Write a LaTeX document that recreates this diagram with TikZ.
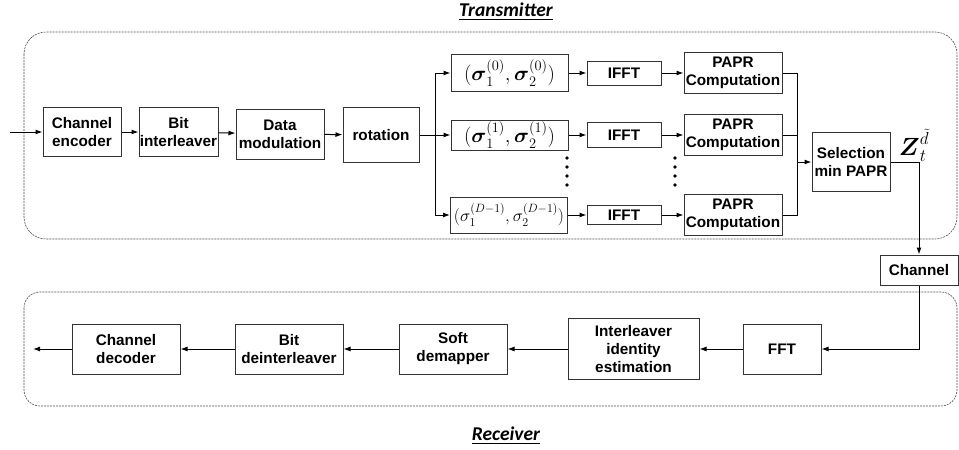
\documentclass[tikz,border=0pt]{standalone}
\usepackage{amsmath}
\usepackage{amssymb}
\usepackage[no-math]{fontspec}
\setmainfont{Liberation Sans}
\newfontfamily\titlefont{Carlito}
\usetikzlibrary{
  arrows.meta  % Latex 箭头样式
}

\begin{document}
\begin{tikzpicture}[x=1pt, y=-1pt, >={Latex[length=7pt,width=5pt]},
    blk/.style={draw=black!80, line width=1pt, align=center, inner sep=0.5pt,
      font=\fontsize{15.3}{18}\selectfont\bfseries},
    sig/.style={blk, minimum width=117pt, font=\fontsize{22}{24}\selectfont},
    frame/.style={draw=black!70, line width=0.6pt, dash pattern=on 2pt off 1pt},
    ttl/.style={font=\titlefont\fontsize{19.5}{22}\selectfont\bfseries\itshape}]
    \useasboundingbox (0,0) rectangle (959,450);

    % 各行的纵坐标
    \def\rowA{73}
    \def\rowB{135}
    \def\rowD{215}

    % --- 虚线框与标题 ---
    \draw[frame, rounded corners=22pt] (24,32) rectangle (957,239);
    \draw[frame, rounded corners=16pt] (24,292) rectangle (957,406);
    \node[ttl] (tx) at (506,12) {\underline{Transmitter}};
    \node[ttl] (rx) at (506,436) {\underline{Receiver}};

    % --- 发射机：主链路 ---
    \coordinate (src) at (10,132);
    \node[blk, minimum width=78pt, minimum height=49pt] (enc) at (82,132) {Channel\\encoder};
    \node[blk, minimum width=79pt, minimum height=49pt] (bitil) at (178.5,132) {Bit\\interleaver};
    \node[blk, minimum width=88pt, minimum height=50pt] (mod) at (280,134) {Data\\modulation};
    \node[blk, minimum width=76pt, minimum height=55pt] (rot) at (381,\rowB) {rotation};
    \coordinate (br) at (435,\rowB);

    \draw[->, line width=1pt] (src) -- (enc);
    \draw[->, line width=1pt] (enc) -- (bitil);
    \draw[->, line width=1pt] (bitil) -- (mod);
    \draw[->, line width=1pt] (mod) -- (rot);

    % --- 发射机：D 个分支 ---
    \node[sig, minimum height=37pt] (sig0) at (509.5,\rowA)
      {$(\boldsymbol{\sigma}_1^{(0)},\boldsymbol{\sigma}_2^{(0)})$};
    \node[sig, minimum height=30pt] (sig1) at (509.5,\rowB)
      {$(\boldsymbol{\sigma}_1^{(1)},\boldsymbol{\sigma}_2^{(1)})$};
    \node[sig, minimum height=36pt, inner sep=0pt, font=\fontsize{17}{18}\selectfont] (sigD) at (509,\rowD)
      {$(\sigma_1^{(D-1)},\sigma_2^{(D-1)})$};

    \node[blk, minimum width=74pt, minimum height=24pt] (ifft0) at (624,\rowA) {IFFT};
    \node[blk, minimum width=74pt, minimum height=25pt] (ifft1) at (624,\rowB) {IFFT};
    \node[blk, minimum width=74pt, minimum height=19pt] (ifftD) at (624,\rowD) {IFFT};

    \node[blk, minimum width=98pt, minimum height=41pt] (papr0) at (733,\rowA) {PAPR\\Computation};
    \node[blk, minimum width=98pt, minimum height=41pt] (papr1) at (733,\rowB) {PAPR\\Computation};
    \node[blk, minimum width=98pt, minimum height=41pt] (paprD) at (733,\rowD) {PAPR\\Computation};

    \draw[->, line width=1pt] (rot) -- (sig1);
    \draw[->, line width=1pt] (br) |- (sig0);
    \draw[->, line width=1pt] (br) |- (sigD);
    \foreach \k in {0,1,D}{
      \draw[->, line width=1pt] (sig\k) -- (ifft\k);
      \draw[->, line width=1pt] (ifft\k) -- (papr\k);
    }

    % 省略号
    \foreach \yy in {158,167,176,185}{
      \fill (567,\yy) circle (1.8pt);
      \fill (675,\yy) circle (1.8pt);
    }

    % --- 选择最小 PAPR ---
    \node[blk, minimum width=78pt, minimum height=59pt] (sel) at (851,162) {Selection\\min PAPR};
    \coordinate (mg) at (797,162);
    \draw[line width=1pt] (papr0) -| (mg);
    \draw[line width=1pt] (papr1) -| (mg);
    \draw[line width=1pt] (paprD) -| (mg);
    \draw[->, line width=1pt] (mg) -- (sel);
    \node (zlab) at (914,145) {\fontsize{23}{26}\selectfont $\boldsymbol{Z}_t^{\tilde{d}}$};

    % --- 信道 ---
    \node[blk, minimum width=78pt, minimum height=30pt] (chan) at (919,270) {Channel};
    \draw[->, line width=1pt] (sel) -| (chan);

    % --- 接收机 ---
    \node[blk, minimum width=78pt, minimum height=50pt] (fft) at (782,349) {FFT};
    \node[blk, minimum width=131pt, minimum height=61pt] (iden) at (633.5,349) {Interleaver\\identity\\estimation};
    \node[blk, minimum width=108pt, minimum height=50pt] (demap) at (453,349) {Soft\\demapper};
    \node[blk, minimum width=108pt, minimum height=50pt] (deil) at (289,349) {Bit\\deinterleaver};
    \node[blk, minimum width=108pt, minimum height=50pt] (dec) at (126,349) {Channel\\decoder};
    \coordinate (sink) at (33,349);

    \draw[->, line width=1pt] (chan) |- (fft);
    \draw[->, line width=1pt] (fft) -- (iden);
    \draw[->, line width=1pt] (iden) -- (demap);
    \draw[->, line width=1pt] (demap) -- (deil);
    \draw[->, line width=1pt] (deil) -- (dec);
    \draw[->, line width=1pt] (dec) -- (sink);

  \end{tikzpicture}
\end{document}
